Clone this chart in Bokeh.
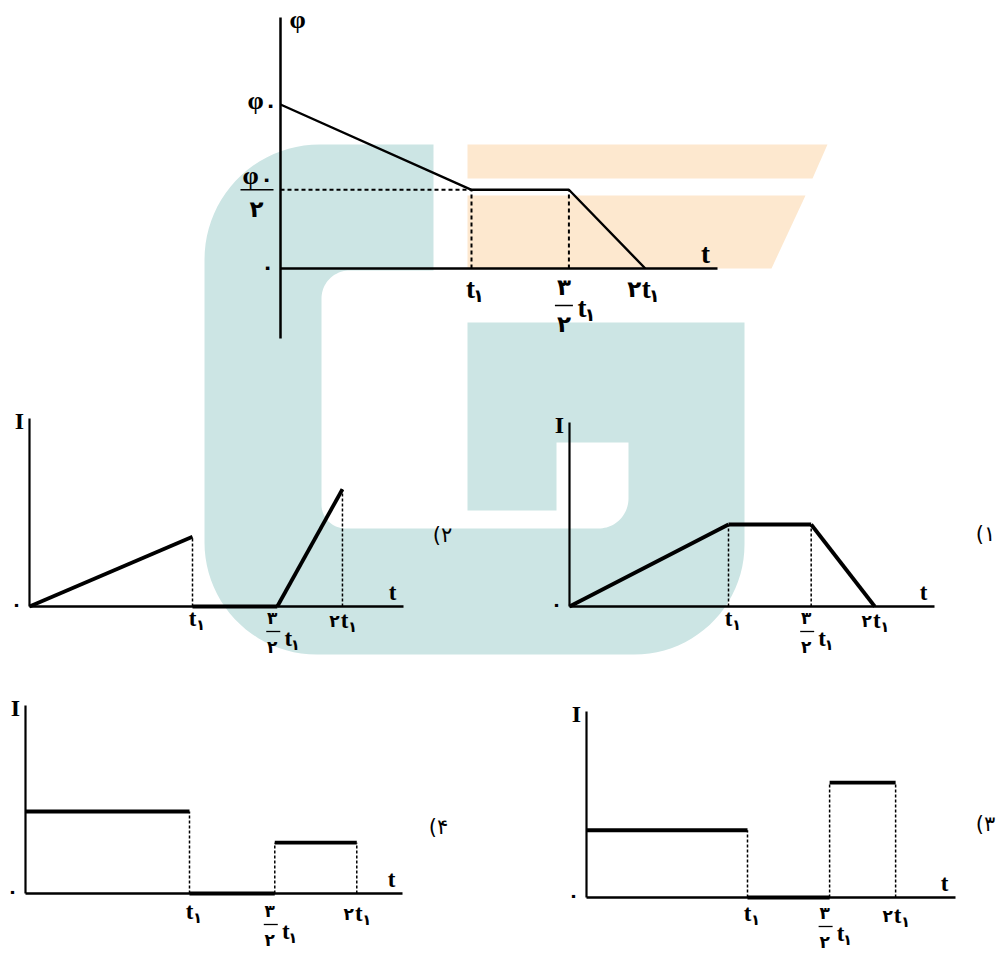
import numpy as np
from bokeh.plotting import figure
from bokeh.models import Range1d
from bokeh.core.properties import value
from bokeh.embed import file_html
from bokeh.resources import INLINE

# ---------------- data ----------------
# flux diagram: t in units of t1 (positions as drawn), phi in units of phi0
phi_t = [0.0, 1.0, 1.51, 1.91]
phi_v = [1.0, 0.48, 0.48, 0.0]

# answer options: knot times (t / t1 as drawn) and I at start / end of each interval
opt1_t = [0.0, 1.0, 1.52, 1.92]
opt1_i_start = [0.0, 1.0, 1.0]
opt1_i_end = [1.0, 1.0, 0.0]

opt2_t = [0.0, 1.0, 1.52, 1.92]
opt2_i_start = [0.0, 0.0, 0.0]
opt2_i_end = [0.85, 0.0, 1.43]

opt3_t = [0.0, 1.0, 1.51, 1.92]
opt3_i_start = [0.82, 0.0, 1.40]
opt3_i_end = [0.82, 0.0, 1.40]

opt4_t = [0.0, 1.0, 1.52, 2.02]
opt4_i_start = [1.0, 0.0, 0.62]
opt4_i_end = [1.0, 0.0, 0.62]

# texts
lab_phi = "φ"
lab_I = "I"
lab_t = "t"
lab_zero = "۰"
lab_one = "۱"
lab_two = "۲"
lab_three = "۳"
option_labels = ["(۱", "(۲", "(۳", "(۴"]

# ---------------- layout (window pixels) ----------------
W, H = 996, 953
XL, XR, YT, YB = 0, W, 0, H
TEAL = "#cce5e4"
ORANGE = "#fde8cf"
SERIF = value("Liberation Serif")
PERS = value("DejaVu Sans")

# name: origin x, origin y, px per t1, px per unit, x-axis end, y-axis top, y-axis bottom, label shift
panels = {
    "phi": (280, 268, 191, 164, 717, 17, 338, 0),
    "o1": (569, 606, 159, 82, 934, 422, 606, 11),
    "o2": (29, 606, 163, 82, 403, 418, 606, 11),
    "o3": (586, 897, 161, 82, 955, 711, 897, 15),
    "o4": (25, 893, 164, 82, 402, 705, 893, 17),
}

p = figure(width=W, height=H, x_range=Range1d(XL, XR), y_range=Range1d(YB, YT),
           output_backend="svg", toolbar_location=None, title=None,
           x_axis_location=None, y_axis_location=None, min_border=0,
           outline_line_color=None, background_fill_color="white",
           border_fill_color="white")
p.grid.visible = False

for name, (X0, Y0, sx, sy, *_rest) in panels.items():
    p.extra_x_ranges[name] = Range1d((XL - X0) / sx, (XR - X0) / sx)
    p.extra_y_ranges[name] = Range1d((Y0 - YB) / sy, (Y0 - YT) / sy)


# ---------------- watermark (logo outline in window pixels) ----------------
def arc(xs, ys, cx, cy, r, a0, a1, n=24):
    a = np.linspace(a0, a1, n)
    xs.extend(cx + r * np.cos(a))
    ys.extend(cy + r * np.sin(a))

gx, gy = [], []
gx += [319, 433, 433]; gy += [144, 144, 270]
arc(gx, gy, 349, 298, 28, -np.pi / 2, -np.pi)
arc(gx, gy, 345, 504, 24, np.pi, np.pi / 2)
arc(gx, gy, 598, 498, 30, np.pi / 2, 0)
gx += [628, 556, 556, 467, 467, 744]; gy += [442, 442, 510, 510, 322, 322]
arc(gx, gy, 634, 544, 110, 0, np.pi / 2)
arc(gx, gy, 316, 542, 112, np.pi / 2, np.pi)
arc(gx, gy, 319, 259, 115, np.pi, 1.5 * np.pi)
p.patch(gx, gy, fill_color=TEAL, line_color=None)
p.patch([467, 827, 812, 467], [144, 144, 178, 178], fill_color=ORANGE, line_color=None)
p.patch([467, 805, 771, 467], [195, 195, 268, 268], fill_color=ORANGE, line_color=None)


# ---------------- helpers ----------------
def rn(name):
    return dict(x_range_name=name, y_range_name=name)


def txt(name, x, y, dx, dy, s, size, font=SERIF, style="bold"):
    X0, Y0, sx, sy = panels[name][:4]
    p.text(x=[x + dx / sx], y=[y - dy / sy], text=[s], text_font=font,
           text_font_size=f"{size}px", text_font_style=style, text_align="center",
           text_baseline="middle", text_color="black", **rn(name))


def bar(name, x, y, dx0, dx1, dy, lw=1.5):
    X0, Y0, sx, sy = panels[name][:4]
    p.segment(x0=[x + dx0 / sx], y0=[y - dy / sy], x1=[x + dx1 / sx], y1=[y - dy / sy],
              line_color="black", line_width=lw, **rn(name))


def axes(name, wx, wy):
    X0, Y0, sx, sy, xe, yt, yb, _ = panels[name]
    p.segment(x0=[0], y0=[(Y0 - yb) / sy], x1=[0], y1=[(Y0 - yt) / sy],
              line_color="black", line_width=wy, **rn(name))
    p.segment(x0=[0], y0=[0], x1=[(xe - X0) / sx], y1=[0],
              line_color="black", line_width=wx, **rn(name))


# ---------------- flux panel ----------------
axes("phi", 2.5, 2.5)
p.segment(x0=[0, phi_t[1], phi_t[2]], y0=[phi_v[1], 0, 0],
          x1=[phi_t[1], phi_t[1], phi_t[2]], y1=[phi_v[1], phi_v[1], phi_v[2]],
          line_color="black", line_width=2, line_dash="4 3", **rn("phi"))
p.line(phi_t, phi_v, line_color="black", line_width=2.4, **rn("phi"))

X0, Y0, sx, sy, xe, yt, yb, _ = panels["phi"]
txt("phi", 0, 0, 17, -(Y0 - yt) + 2, lab_phi, 26)
txt("phi", 0, phi_v[0], -25, -4, lab_phi, 26)
txt("phi", 0, phi_v[0], -10, 0, lab_zero, 20, PERS, "bold")
txt("phi", 0, phi_v[1], -30, -14, lab_phi, 26)
txt("phi", 0, phi_v[1], -14, -11, lab_zero, 20, PERS, "bold")
bar("phi", 0, phi_v[1], -40, -7, 0, 1.5)
txt("phi", 0, phi_v[1], -24, 19, lab_two, 23, PERS, "bold")
txt("phi", 0, 0, -13, -2, lab_zero, 20, PERS, "bold")
txt("phi", (xe - X0) / sx, 0, -12, -15, lab_t, 27)
# ticks
txt("phi", phi_t[1], 0, -1, 20, lab_t, 27)
txt("phi", phi_t[1], 0, 7, 27, lab_one, 18, PERS, "bold")
txt("phi", phi_t[2], 0, -5, 18, lab_three, 23, PERS, "bold")
bar("phi", phi_t[2], 0, -14, 4, 37, 1.5)
txt("phi", phi_t[2], 0, -5, 55, lab_two, 23, PERS, "bold")
txt("phi", phi_t[2], 0, 13, 39, lab_t, 27)
txt("phi", phi_t[2], 0, 21, 46, lab_one, 18, PERS, "bold")
txt("phi", phi_t[3], 0, -11, 20, lab_two, 23, PERS, "bold")
txt("phi", phi_t[3], 0, 1, 20, lab_t, 27)
txt("phi", phi_t[3], 0, 9, 27, lab_one, 18, PERS, "bold")


# ---------------- option panels ----------------
def option(name, t, i0, i1):
    X0, Y0, sx, sy, xe, yt, yb, B = panels[name]
    axes(name, 2.5, 2.2)
    vx, vh = [], []
    for k in range(1, len(t)):
        left = i1[k - 1]
        right = i0[k] if k < len(i0) else 0.0
        h = max(left, right)
        if h > 0:
            vx.append(t[k]); vh.append(h)
    p.segment(x0=vx, y0=[0] * len(vx), x1=vx, y1=vh, line_color="black",
              line_width=1.5, line_dash="3 2", **rn(name))
    p.segment(x0=t[:-1], y0=i0, x1=t[1:], y1=i1, line_color="black",
              line_width=3.8, **rn(name))
    ytop = (Y0 - yt) / sy
    txt(name, 0, ytop, -10, 2, lab_I, 24)
    txt(name, 0, 0, -13, -2, lab_zero, 18, PERS, "bold")
    txt(name, (xe - X0) / sx, 0, -11, -14, lab_t, 23)
    # t1
    txt(name, t[1], 0, 0, B + 1, lab_t, 23)
    txt(name, t[1], 0, 8, B + 7, lab_one, 15, PERS, "bold")
    # 3/2 t1
    txt(name, t[2], 0, -5, B, lab_three, 17, PERS, "bold")
    bar(name, t[2], 0, -11, 3, B + 14, 1.3)
    txt(name, t[2], 0, -5, B + 29, lab_two, 17, PERS, "bold")
    txt(name, t[2], 0, 11, B + 21, lab_t, 23)
    txt(name, t[2], 0, 18, B + 27, lab_one, 15, PERS, "bold")
    # 2 t1
    txt(name, t[3], 0, -8, B + 3, lab_two, 17, PERS, "bold")
    txt(name, t[3], 0, 2, B + 3, lab_t, 23)
    txt(name, t[3], 0, 10, B + 9, lab_one, 15, PERS, "bold")


option("o1", opt1_t, opt1_i_start, opt1_i_end)
option("o2", opt2_t, opt2_i_start, opt2_i_end)
option("o3", opt3_t, opt3_i_start, opt3_i_end)
option("o4", opt4_t, opt4_i_start, opt4_i_end)

# option numbers (window pixel positions)
p.text(x=[985, 442, 985, 438], y=[533, 534, 823, 826], text=option_labels,
       text_font=PERS, text_font_size="21px", text_align="center",
       text_baseline="middle", text_color="black")

open("out.html", "w").write(file_html(p, INLINE))
